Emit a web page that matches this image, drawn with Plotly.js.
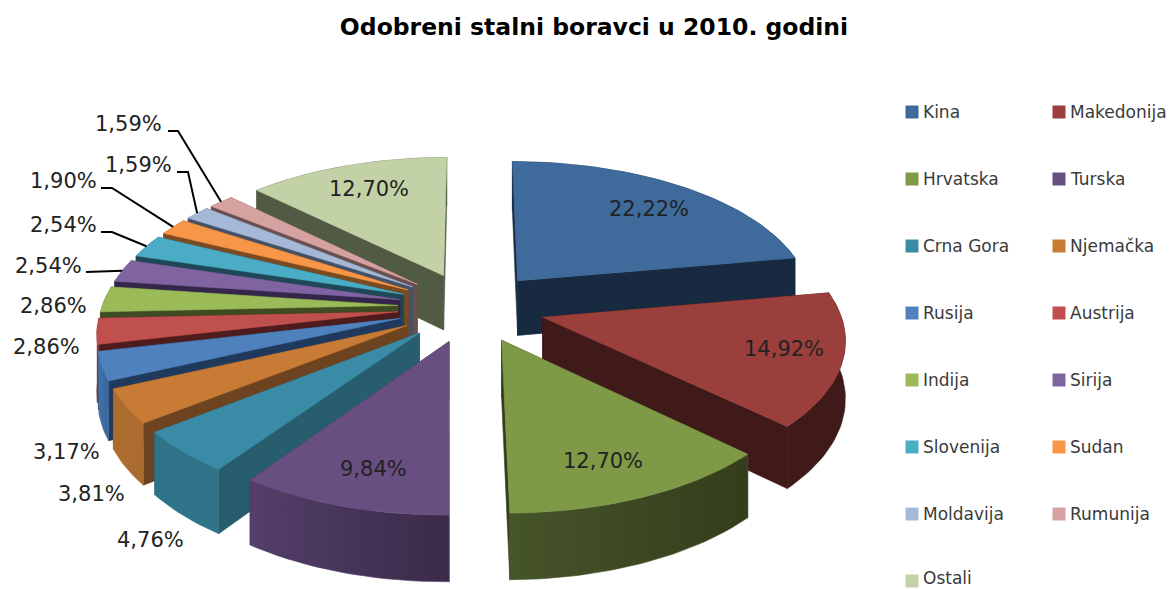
<!DOCTYPE html>
<html><head><meta charset="utf-8">
<script src="https://cdn.plot.ly/plotly-3.0.1.min.js"></script>
<style>html,body{margin:0;padding:0;background:#fff}#c{width:1174px;height:589px}</style>
</head><body><div id="c"></div>
<script>
const categories=["Kina","Makedonija","Hrvatska","Turska","Crna Gora","Njemačka","Rusija","Austrija","Indija","Sirija","Slovenija","Sudan","Moldavija","Rumunija","Ostali"];
const shares=[22.22,14.92,12.70,9.84,4.76,3.81,3.17,2.86,2.86,2.54,2.54,1.90,1.59,1.59,12.70];
const topColors=["#3E6A9C","#9B3F3D","#7E9A46","#684F82","#3A8CA6","#C87B35","#4F81BD","#C0504D","#9BBB59","#8064A2","#4BACC6","#F79646","#A5B8D8","#D6A2A1","#C3D2A6"];
const radialColors=["#172A40","#401A18","#343D1C","#3E2E4E","#275D6C","#6E4320","#1F3A5C","#4E1C1C","#3F4B22","#33264A","#1E4855","#7A4A20","#445266","#6A4F4F","#515A43"];
const outerLeft=["#1C3148","#401A18","#47552A","#533F6A","#2F7389","#AD6C2F","#4272A8","#8E3A38","#6F8840","#5C4876","#367F92","#B56F32","#78869E","#9C7675","#515A43"];
const outerRight=["#172A40","#401A18","#343D1C","#3B2A48","#2F7389","#AD6C2F","#3A6699","#8E3A38","#6F8840","#5C4876","#367F92","#B56F32","#78869E","#9C7675","#515A43"];
const labelXY=[[649,209],[784,349],[603,461],[373,469],[150,540],[91,494],[66,452],[46,347],[53,306],[48,266],[63,225],[63,181],[138,165],[128,124],[369,189]];
const leaderElbows={9:[[86,272]],10:[[101,232],[112,232]],11:[[101,188],[112,188]],12:[[177,172],[188,172]],13:[[168,131],[178,131]]};

const cx=471.4,cy=307,A=296,B=141,p=0.13,e=0.249,H=56;
const rad=d=>d*Math.PI/180;
function proj(theta,mid,r,drop){
  const X=Math.sin(theta)*r+e*Math.sin(mid), Z=-Math.cos(theta)*r-e*Math.cos(mid);
  const s=1/(1-p*Z);
  return {x:cx+A*X*s,y:cy+B*Z*s+(drop?H*s:0),z:Z};
}
function poly(pts,color,c2,z){
  const tr={type:'scatter',mode:'lines',x:pts.map(q=>q.x).concat(pts[0].x),y:pts.map(q=>q.y).concat(pts[0].y),fill:'toself',
    line:{width:0.6,color:color},fillcolor:color,hoverinfo:'skip',showlegend:false};
  if(c2&&c2!==color){tr.fillgradient={type:'horizontal',colorscale:[[0,color],[1,c2]]};}
  tr._z=z;return tr;
}
let acc=0;
const slices=shares.map((v,i)=>{
  const a0=rad(acc*3.6);acc+=v;const a1=rad(acc*3.6);const mid=(a0+a1)/2;
  const n=Math.max(4,Math.ceil((a1-a0)/rad(1.5)));
  const topArc=[],botArc=[];
  for(let k=0;k<=n;k++){const t=a0+(a1-a0)*k/n;topArc.push(proj(t,mid,1,false));botArc.push(proj(t,mid,1,true));}
  const ap=proj(0,mid,0,false),apB=proj(0,mid,0,true);
  const faces=[];
  const avg=(a,b)=>(a+b)/2;
  faces.push(poly([ap,topArc[0],botArc[0],apB],radialColors[i],null,avg(ap.z,topArc[0].z)));
  faces.push(poly([ap,topArc[n],botArc[n],apB],radialColors[i],null,avg(ap.z,topArc[n].z)));
  faces.push(poly(topArc.concat(botArc.slice().reverse()),outerLeft[i],outerRight[i],proj(mid,mid,1,false).z));
  faces.sort((f,g)=>f._z-g._z);
  faces.push(poly([ap].concat(topArc),topColors[i],null,99));
  return {i,mid,depth:proj(mid,mid,0.6,false).z,faces};
});
slices.sort((a,b)=>a.depth-b.depth);
const traces=[];
slices.forEach(s=>s.faces.forEach(f=>{delete f._z;traces.push(f);}));

// leaders
Object.keys(leaderElbows).forEach(k=>{
  const s=slices.find(q=>q.i==k);
  const end=proj(s.mid,s.mid,1,false);
  const pts=leaderElbows[k].concat([[end.x,end.y]]);
  traces.push({type:'scatter',mode:'lines',x:pts.map(q=>q[0]),y:pts.map(q=>q[1]),line:{color:'#000',width:2},hoverinfo:'skip',showlegend:false});
});

// legend
const legCols=[[912,921],[1059,1068]];
const lgX=[],lgY=[],lgC=[];
const annotations=[];
categories.forEach((c,i)=>{
  const col=legCols[i%2],y=112+67*Math.floor(i/2);
  lgX.push(col[0]);lgY.push(y);lgC.push(topColors[i]);
  annotations.push({x:col[1],y:Math.min(y,578),text:c,showarrow:false,xanchor:'left',yanchor:'middle',xref:'x',yref:'y',
    font:{family:'DejaVu Sans',size:17,color:'#3a3a3a'}});
});
traces.push({type:'scatter',mode:'markers',x:lgX,y:lgY,marker:{symbol:'square',size:13,color:lgC},hoverinfo:'skip',showlegend:false});
shares.forEach((v,i)=>{
  annotations.push({x:labelXY[i][0],y:labelXY[i][1],text:v.toFixed(2).replace('.',',')+'%',showarrow:false,xanchor:'center',yanchor:'middle',
    font:{family:'DejaVu Sans',size:21,color:'#222'}});
});
const layout={width:1174,height:589,margin:{l:0,r:0,t:0,b:0},paper_bgcolor:'#fff',plot_bgcolor:'#fff',showlegend:false,
  title:{text:'<b>Odobreni stalni boravci u 2010. godini</b>',x:594/1174,y:1-27/589,xanchor:'center',yanchor:'middle',font:{family:'DejaVu Sans',size:23.5,color:'#000'}},
  xaxis:{range:[0,1174],visible:false,fixedrange:true},
  yaxis:{range:[589,0],visible:false,fixedrange:true},
  annotations};
Plotly.newPlot('c',traces,layout,{displayModeBar:false,staticPlot:true});
</script></body></html>
